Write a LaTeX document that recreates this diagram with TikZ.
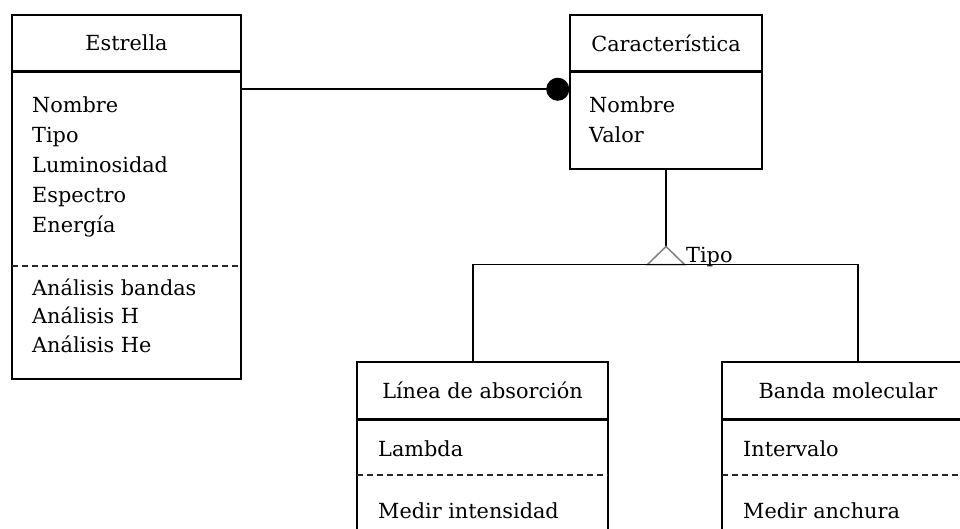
\documentclass[tikz,border=0pt]{standalone}
\usepackage{fontspec}
\setmainfont{DejaVu Serif}
\usetikzlibrary{arrows.meta}

\begin{document}
\begin{tikzpicture}[x=1pt,y=-1pt,
        every node/.style={font=\fontsize{20.8}{30}\selectfont},
        frame/.style={draw,line width=1.5pt,inner sep=0pt},
        members/.style={align=left,inner sep=0pt,anchor=north west},
        sepline/.style={line width=3pt},
        opsep/.style={dash pattern=on 6pt off 4pt,line width=1.2pt,black!85},
        conn/.style={line width=1.5pt}]
        \clip (0,0) rectangle (960,529);
        \fill[white] (0,0) rectangle (960,529);
        % Estrella
        \node[frame,minimum width=229pt,minimum height=56pt] (estrella) at (126.5,43) {Estrella};
        \node[frame,minimum width=229pt,minimum height=308pt] (estrellabody) at (126.5,225) {};
        \draw[sepline] (estrella.south west) -- (estrella.south east);
        \draw[opsep] (12,266) -- (241,266);
        \node[members] (estrellaattr) at (32,96) {Nombre\\Tipo\\Luminosidad\\Espectro\\Energía};
        \node[members,font=\fontsize{20.8}{28.5}\selectfont] (estrellaops) at (32,278.2) {Análisis bandas\\Análisis H\\Análisis He};
        % Caracteristica
        \node[frame,minimum width=192pt,minimum height=56pt] (car) at (666,43) {Característica};
        \node[frame,minimum width=192pt,minimum height=98pt] (carbody) at (666,120) {};
        \draw[sepline] (car.south west) -- (car.south east);
        \node[members] (carattr) at (589,96) {Nombre\\Valor};
        % Linea de absorcion
        \node[frame,minimum width=251pt,minimum height=56.5pt] (linea) at (482.5,390.25) {Línea de absorción};
        \node[frame,minimum width=251pt,minimum height=150pt] (lineabody) at (482.5,493.5) {};
        \draw[sepline] (linea.south west) -- (linea.south east);
        \draw[opsep] (357,475) -- (608,475);
        \node[anchor=base west,inner sep=0pt] (lineaattr) at (378,456.5) {Lambda};
        \node[anchor=base west,inner sep=0pt] (lineaops) at (378,518) {Medir intensidad};
        % Banda molecular
        \node[frame,minimum width=252pt,minimum height=56.5pt] (banda) at (848,390.25) {Banda molecular};
        \node[frame,minimum width=252pt,minimum height=150pt] (bandabody) at (848,493.5) {};
        \draw[sepline] (banda.south west) -- (banda.south east);
        \draw[opsep] (722,475) -- (974,475);
        \node[anchor=base west,inner sep=0pt] (bandaattr) at (743,456.5) {Intervalo};
        \node[anchor=base west,inner sep=0pt] (bandaops) at (743,518) {Medir anchura};
        % asociacion
        \draw[conn,-{Circle[length=23pt]}] ([yshift=-19pt]estrellabody.north east) -- ([yshift=-19pt]carbody.north west);
        % generalizacion
        \coordinate (gen) at (666,264.5);
        \draw[conn] (carbody.south) -- ([yshift=18pt]gen);
        \draw[gray,line width=1.5pt,fill=white] (gen) ++(-18.5,0) -- ++(18.5,-18) -- ++(18.5,18) -- cycle;
        \draw[conn] ([xshift=-9.5pt]linea.north) |- (gen) -| ([xshift=10pt]banda.north);
        \node[anchor=base west,inner sep=0pt] (tipo) at (686,262) {Tipo};
    \end{tikzpicture}
\end{document}
